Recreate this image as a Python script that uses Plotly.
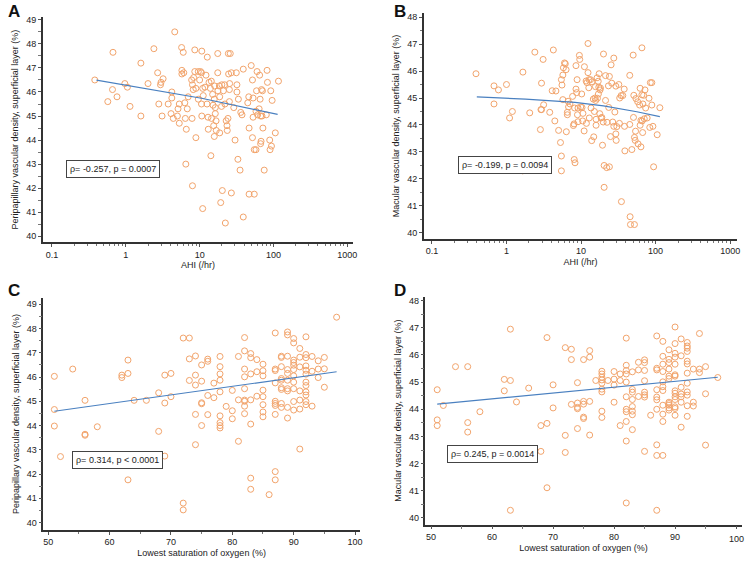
import plotly.graph_objects as go

# panel A: AHI vs peripapillary vessel density
ahi_a = [0.38, 0.57, 0.67, 0.66, 0.76, 0.97, 1.05, 1.14, 1.6, 1.6, 2.0, 2.4, 2.7, 3.0, 3.2, 2.95, 2.8, 3.1,
         3.75, 4.1, 4.2, 4.2, 4.4, 4.6, 5.0, 5.1, 5.3, 5.3, 5.7, 5.75, 5.75, 6.0, 6.1, 6.3, 6.4, 6.6, 6.8,
         7.0, 6.5, 7.8, 8.0, 8.2, 8.6, 8.3, 8.6, 8.9, 7.9, 8.0, 8.9, 9.6, 9.6, 10, 10.3, 10.6, 10.6, 10.7,
         11, 10.7, 11.2, 11, 11.8, 12.2, 12.7, 12.6, 13, 13.1, 13.4, 14, 14.4, 14.2, 14.5, 15, 15.2, 15.5,
         15.8, 16, 15.8, 16.3, 16.3, 16.7, 16.8, 17.6, 17.6, 17.7, 18.5, 18.7, 18.7, 19.3, 20, 19.8, 20.3,
         21, 21.8, 22, 22.3, 22.9, 23.5, 23.7, 24.2, 24.5, 24.7, 25.3, 25.5, 25.3, 26, 26.9, 26.9, 29,
         30.2, 31.4, 32, 32, 33, 33.5, 35.3, 36.1, 37.5, 39, 39, 44.9, 46.3, 46.8, 46.8, 50, 52, 52, 53,
         53, 55, 55, 58, 58, 59, 60, 61, 64, 65, 66, 67, 67, 68, 69, 70, 71, 72, 75, 80, 82, 83, 89, 90,
         92, 94, 96, 106, 117]
pvd_a = [46.5, 45.6, 47.65, 46.1, 45.8, 46.35, 46.2, 45.4, 47.2, 45.0, 46.35, 47.8, 46.8, 46.4, 46.55, 46.3,
         45.5, 45.0, 45.5, 45.1, 45.75, 46.0, 44.9, 48.5, 45.0, 45.3, 45.5, 44.7, 47.85, 46.75, 46.9, 47.65,
         46.8, 45.55, 44.9, 44.45, 45.3, 45.8, 43.0, 46.5, 46.3, 46.1, 47.75, 46.6, 46.85, 46.15, 44.9,
         42.1, 44.1, 46.85, 45.7, 46.5, 46.85, 46.8, 45.5, 47.7, 46.15, 45.0, 45.85, 41.15, 46.2, 46.7,
         47.45, 45.5, 44.95, 44.45, 46.4, 46.15, 46.45, 43.35, 44.9, 45.9, 45.45, 44.6, 44.15, 46.25, 45.7,
         45.35, 45.1, 44.8, 44.4, 47.6, 46.8, 46.05, 46.25, 45.8, 44.3, 41.4, 46.3, 45.4, 41.9, 46.05,
         46.3, 45.5, 40.55, 44.8, 44.6, 44.4, 44.9, 47.6, 46.75, 46.1, 46.35, 45.6, 47.6, 41.8, 46.8,
         45.35, 44.0, 46.8, 46.3, 46.0, 43.2, 45.7, 42.75, 45.15, 45.05, 46.95, 40.8, 45.55, 45.8, 41.75,
         44.5, 47.1, 46.5, 44.1, 45.75, 44.95, 41.75, 43.6, 43.6, 45.2, 46.05, 46.85, 45.05, 45.3, 46.7,
         45.7, 43.85, 45.0, 43.95, 46.1, 45.0, 46.05, 44.5, 42.75, 45.05, 46.9, 46.4, 44.0, 43.6, 46.05,
         43.75, 45.65, 44.3, 46.45]
trend_a_x = [0.4, 10.6, 114]
trend_a_y = [46.49, 45.74, 45.07]

# panel B: AHI vs macular vessel density
ahi_b = [0.39, 0.68, 0.68, 0.78, 1.0, 1.1, 1.2, 1.66, 1.65, 2.05, 2.4, 2.85, 2.9, 2.95, 3.1, 2.95, 3.15, 3.8,
         4.1, 4.25, 4.45, 4.6, 5.0, 5.3, 5.45, 5.45, 5.55, 5.45, 5.7, 5.8, 6.0, 6.15, 6.3, 5.7, 6.35, 6.55,
         6.55, 6.7, 6.8, 7.1, 7.7, 7.9, 8.05, 8.1, 8.3, 8.2, 8.55, 8.55, 8.75, 8.85, 8.95, 9.1, 9.1, 9.5,
         9.6, 9.9, 10.2, 10.3, 10.5, 10.6, 11, 11.1, 11.7, 11.8, 12, 12.4, 12.4, 12.7, 12.8, 12.9, 13.4,
         13.6, 13.9, 14, 14.6, 14.8, 15.1, 15.4, 15.6, 15.7, 15.9, 15.9, 16.4, 16.6, 17, 17.1, 17.3, 17.5,
         17.8, 18, 18.2, 18.6, 19, 19.4, 19.8, 20, 20.4, 20.4, 21.3, 21.3, 22.1, 22.3, 23.3, 23.5, 24, 24,
         24.8, 25.3, 25.8, 26.6, 27.5, 27.5, 28.4, 29.3, 29.3, 29.6, 30.2, 32.1, 32.7, 33, 34.5, 34.8,
         36.3, 37.9, 38.3, 38.7, 45, 45, 45.5, 46, 48, 50, 50.5, 51, 52, 52, 53.2, 53.8, 54.4, 57.5, 58.2,
         61, 62, 62, 63.5, 63.5, 65.5, 65.5, 66, 67, 67.5, 69, 70.5, 72, 73.5, 77, 81.5, 83.5, 85, 89, 89,
         92, 94, 105, 114]
mvd_b = [45.9, 45.45, 44.78, 45.3, 45.5, 44.26, 44.5, 45.96, 42.3, 44.45, 46.7, 43.83, 44.57, 44.57, 46.43,
         45.55, 44.75, 44.47, 45.27, 46.78, 44.15, 45.26, 43.8, 43.35, 42.85, 42.3, 45.48, 45.68, 45.85,
         46.12, 46.3, 46.27, 46.05, 44.94, 43.75, 44.38, 44.47, 44.88, 44.67, 44.78, 45.06, 43.98, 44.04,
         42.72, 42.6, 44.63, 46.2, 45.33, 45.2, 45.68, 44.38, 44.12, 44.63, 46.58, 46.43, 44.67, 45.15,
         44.65, 44.15, 44.43, 43.78, 46.16, 45.63, 44.06, 45.57, 47.02, 45.94, 45.38, 45.68, 44.26, 45.68,
         44.63, 43.42, 45.6, 44.96, 43.56, 44.5, 45.0, 45.42, 44.91, 44.21, 43.99, 45.75, 44.99, 45.62,
         45.15, 45.4, 45.9, 44.42, 45.3, 45.37, 44.26, 44.28, 43.25, 44.11, 46.63, 42.5, 41.69, 45.83,
         44.91, 42.42, 44.1, 45.45, 44.65, 45.8, 42.45, 43.57, 46.23, 45.55, 44.11, 46.48, 43.95, 44.48,
         45.44, 43.67, 43.43, 43.94, 45.5, 44.06, 45.0, 45.09, 41.16, 45.09, 45.33, 43.95, 43.04, 45.84,
         44.02, 40.6, 40.31, 43.09, 46.59, 44.28, 45.1, 43.54, 40.31, 43.43, 43.77, 44.98, 44.86, 43.3,
         44.74, 45.36, 43.99, 44.17, 43.19, 46.86, 45.12, 44.15, 43.72, 44.78, 45.1, 44.23, 45.3, 44.63,
         44.26, 44.99, 43.91, 45.57, 45.57, 44.74, 43.95, 42.45, 43.64, 44.64]
trend_b_x = [0.4, 1.8, 8.3, 20, 56, 114]
trend_b_y = [45.04, 44.96, 44.84, 44.71, 44.49, 44.31]

# panel C: lowest SpO2 vs peripapillary vessel density
spo2_c = [51, 51, 51, 52, 54, 56, 56, 56, 58, 62, 62, 63, 63, 63, 64, 66, 68, 68, 69, 69, 69, 70, 70, 72, 72,
          72, 73, 73, 73, 74, 74, 74, 74, 74, 75, 75, 75, 75, 75, 76, 76, 76, 76, 77, 77, 78, 78, 78, 78,
          78, 78, 78, 78, 78, 79, 80, 80, 80, 81, 81, 81, 82, 82, 82, 82, 82, 82, 82, 82, 82, 83, 83, 83,
          83, 83, 83, 83, 84, 84, 84, 85, 85, 85, 85, 85, 85, 85, 85, 86, 87, 87, 87, 87, 87, 87, 87, 87,
          87, 87, 88, 88, 88, 88, 88, 88, 88, 88, 88, 89, 89, 89, 89, 89, 89, 89, 89, 89, 89, 90, 90, 90,
          90, 90, 90, 90, 90, 90, 90, 90, 91, 91, 91, 91, 91, 91, 91, 92, 92, 92, 92, 92, 92, 92, 92, 92,
          92, 92, 92, 93, 93, 93, 94, 94, 94, 95, 95, 95, 97]
pvd_c = [46.03, 44.66, 43.98, 42.72, 46.33, 45.04, 43.64, 43.6, 43.95, 46.08, 45.98, 46.7, 46.15, 41.76, 45.04,
         45.04, 45.35, 43.76, 44.93, 46.08, 42.74, 46.15, 45.19, 47.61, 40.8, 40.52, 47.61, 46.75, 45.86,
         46.87, 46.08, 45.67, 44.46, 43.21, 46.5, 45.83, 44.94, 44.9, 44.0, 46.74, 46.65, 45.24, 44.45,
         45.75, 45.15, 46.85, 46.43, 46.13, 45.87, 45.39, 44.4, 44.12, 44.0, 43.9, 44.79, 45.45, 44.61,
         44.28, 46.85, 45.06, 43.35, 47.63, 47.08, 46.33, 46.01, 45.52, 45.05, 45.0, 44.8, 44.49, 46.97,
         46.8, 46.13, 45.06, 44.06, 41.83, 41.37, 46.72, 46.22, 45.21, 46.53, 46.26, 46.05, 45.46, 45.19,
         44.86, 44.56, 44.36, 41.15, 47.82, 46.33, 46.27, 45.76, 45.0, 44.91, 44.83, 44.46, 42.1, 41.76,
         46.86, 46.81, 46.43, 45.94, 45.87, 45.56, 45.49, 44.91, 44.75, 47.86, 47.74, 46.86, 46.31, 46.15,
         45.87, 45.52, 45.43, 44.75, 44.31, 47.59, 47.41, 46.7, 46.6, 46.49, 46.31, 46.05, 45.79, 45.52,
         44.99, 44.64, 47.18, 46.82, 46.42, 45.43, 45.05, 44.68, 43.03, 47.66, 46.93, 46.8, 46.46, 46.28,
         46.12, 45.79, 45.65, 45.39, 45.26, 44.99, 44.86, 46.85, 46.24, 44.8, 46.67, 46.33, 45.98, 46.81,
         46.34, 45.58, 48.47]
trend_c_x = [51, 97]
trend_c_y = [44.59, 46.22]

# panel D: lowest SpO2 vs macular vessel density
spo2_d = [51, 51, 51, 52, 54, 56, 56, 56, 58, 62, 62, 63, 63, 63, 64, 66, 68, 68, 69, 69, 69, 70, 70, 72, 72,
          72, 73, 73, 73, 74, 74, 74, 74, 74, 75, 75, 75, 75, 75, 76, 76, 76, 76, 77, 78, 78, 78, 78, 78,
          78, 78, 78, 78, 79, 80, 80, 80, 80, 81, 81, 81, 82, 82, 82, 82, 82, 82, 82, 82, 82, 82, 82, 83,
          83, 83, 83, 83, 83, 83, 83, 84, 84, 84, 85, 85, 85, 85, 85, 85, 85, 85, 86, 87, 87, 87, 87, 87,
          87, 87, 87, 87, 87, 88, 88, 88, 88, 88, 88, 88, 88, 88, 88, 88, 89, 89, 89, 89, 89, 89, 89, 89,
          89, 89, 89, 90, 90, 90, 90, 90, 90, 90, 90, 90, 90, 90, 90, 90, 90, 91, 91, 91, 91, 91, 91, 91,
          92, 92, 92, 92, 92, 92, 92, 92, 92, 92, 92, 92, 93, 93, 93, 94, 94, 94, 95, 95, 95, 97]
mvd_d = [44.72, 43.61, 43.4, 44.14, 45.57, 45.57, 43.51, 43.16, 43.91, 45.1, 44.68, 46.95, 45.06, 40.28, 44.27,
         44.78, 43.4, 42.45, 46.64, 43.48, 41.11, 44.9, 44.05, 46.27, 43.04, 42.41, 46.21, 45.83, 44.18,
         44.98, 44.23, 44.07, 44.02, 43.29, 45.83, 44.29, 44.19, 43.71, 43.66, 46.16, 45.92, 44.29, 43.05,
         45.06, 45.4, 45.3, 45.18, 45.08, 44.96, 44.74, 44.64, 43.93, 43.7, 45.06, 45.39, 45.11, 44.89,
         44.26, 45.3, 45.06, 43.4, 46.62, 45.62, 45.43, 45.3, 45.0, 44.46, 44.0, 43.91, 43.55, 42.83,
         40.55, 45.38, 44.73, 44.63, 44.36, 44.1, 43.93, 43.8, 43.25, 45.73, 45.45, 44.47, 45.82, 45.72,
         45.43, 45.05, 44.63, 44.53, 44.45, 42.45, 43.78, 46.7, 45.51, 45.45, 44.72, 44.45, 44.35, 44.0,
         42.69, 42.3, 40.28, 46.5, 45.95, 45.66, 45.39, 45.01, 44.83, 44.69, 44.15, 43.82, 43.55, 42.3,
         46.19, 45.84, 45.72, 45.48, 45.22, 45.13, 44.26, 44.21, 44.15, 44.05, 43.97, 47.03, 46.42, 46.06,
         45.92, 45.66, 45.27, 45.22, 44.68, 44.59, 44.46, 44.36, 44.09, 44.03, 43.78, 46.59, 45.97, 44.81,
         44.56, 44.46, 44.26, 43.34, 46.46, 46.33, 46.25, 46.13, 45.77, 45.67, 45.33, 44.96, 44.64, 44.52,
         44.13, 43.74, 45.48, 44.26, 44.12, 46.79, 45.48, 45.35, 45.57, 44.57, 42.68, 45.17]
trend_d_x = [51, 97]
trend_d_y = [44.19, 45.18]

stats = ["\u03c1= -0.257, p = 0.0007", "\u03c1= -0.199, p = 0.0094",
         "\u03c1= 0.314, p < 0.0001", "\u03c1= 0.245, p = 0.0014"]
letters = ["A", "B", "C", "D"]
spo2_ticks = [50, 60, 70, 80, 90, 100]

MARKER = "#F2A46C"
LINE = "#4A80C0"
FONT = "Liberation Sans, Arial, sans-serif"

panels = [
    (ahi_a, pvd_a, trend_a_x, trend_a_y),
    (ahi_b, mvd_b, trend_b_x, trend_b_y),
    (spo2_c, pvd_c, trend_c_x, trend_c_y),
    (spo2_d, mvd_d, trend_d_x, trend_d_y),
]

fig = go.Figure()
for i, (xs, ys, tx, ty) in enumerate(panels):
    n = "" if i == 0 else str(i + 1)
    fig.add_trace(go.Scatter(
        x=xs, y=ys, mode="markers", xaxis="x" + n, yaxis="y" + n,
        marker=dict(symbol="circle-open", size=6, color=MARKER, line=dict(width=1, color=MARKER)),
        showlegend=False, cliponaxis=False,
    ))
    fig.add_trace(go.Scatter(
        x=tx, y=ty, mode="lines", xaxis="x" + n, yaxis="y" + n,
        line=dict(color=LINE, width=1.2), showlegend=False,
    ))

# axis domains (paper fractions) and ranges
x_domains = [[0.0567, 0.469], [0.563, 0.979], [0.0575, 0.478], [0.565, 0.985]]
y_domains = [[0.572, 0.970], [0.578, 0.977], [0.064, 0.473], [0.073, 0.476]]
x_ranges = [[-1.126, 3.08], [-1.107, 3.094], [49.2, 100.8], [49.07, 100.93]]
y_ranges = [[39.75, 49.12], [39.78, 48.15], [39.7, 49.25], [39.75, 48.15]]
x_titles = ["AHI (/hr)", "AHI (/hr)", "Lowest saturation of oxygen (%)", "Lowest saturation of oxygen (%)"]
y_titles = ["Peripapillary vascular density, superficial layer (%)",
            "Macular vascular density, superficial layer (%)",
            "Peripapillary vascular density, superficial layer (%)",
            "Macular vascular density, superficial layer (%)"]

log_major = [0.1, 1, 10, 100, 1000]
log_minor = [m * d for d in [0.1, 1, 10, 100] for m in range(2, 10)]

common = dict(
    showline=True, linecolor="#333333", linewidth=1.5, ticks="outside", ticklen=3,
    tickcolor="#555555", tickwidth=1, showgrid=False, zeroline=False,
    tickfont=dict(size=9, color="#222222", family=FONT), automargin=False,
    ticklabeloverflow="allow", tickangle=0,
)
layout_axes = {}
for i in range(4):
    n = "" if i == 0 else str(i + 1)
    if i < 2:
        xa = dict(type="log", tickvals=log_major, ticktext=["0.1", "1", "10", "100", "1000"],
                  minor=dict(tickvals=log_minor, ticks="outside", ticklen=2.5, tickcolor="#777777"))
    else:
        labels = [str(v) for v in spo2_ticks]
        if i == 3:
            labels[-1] = ""  # drawn as an annotation below, at the edge of the page
        xa = dict(tickvals=spo2_ticks, ticktext=labels,
                  minor=dict(dtick=5, ticks="outside", ticklen=2.5, tickcolor="#777777"))
    xa.update(common)
    xa.update(domain=x_domains[i], range=x_ranges[i], anchor="y" + n,
              title=dict(text=x_titles[i], font=dict(size=9, color="#222222", family=FONT), standoff=3))
    ya = dict(dtick=1, tick0=40,
              minor=dict(dtick=0.5, ticks="outside", ticklen=2.5, tickcolor="#777777"))
    ya.update(common)
    ya.update(domain=y_domains[i], range=y_ranges[i], anchor="x" + n,
              title=dict(text=y_titles[i], font=dict(size=9, color="#222222", family=FONT), standoff=6))
    layout_axes["xaxis" + n] = xa
    layout_axes["yaxis" + n] = ya

# statistics boxes
box_pos = [(0.1507, 0.7014), (0.670, 0.7085), (0.1554, 0.1873), (0.6534, 0.197)]
annotations = []
for (bx, by), s in zip(box_pos, stats):
    annotations.append(dict(
        x=bx, y=by, xref="paper", yref="paper", text=s, showarrow=False,
        xanchor="center", yanchor="middle", bgcolor="white", bordercolor="#444444",
        borderwidth=1, borderpad=3, font=dict(size=9, color="#222222", family=FONT),
    ))

letter_pos = [(0.008, 0.979), (0.5206, 0.979), (0.008, 0.4876), (0.5206, 0.4876)]
for (lx, ly), s in zip(letter_pos, letters):
    annotations.append(dict(
        x=lx, y=ly, xref="paper", yref="paper", text="<b>" + s + "</b>", showarrow=False,
        xanchor="left", yanchor="middle", font=dict(size=17, color="#111111", family=FONT),
    ))

# last tick label of panel D
annotations.append(dict(
    x=spo2_ticks[-1], y=0.0485, xref="x4", yref="paper", text=str(spo2_ticks[-1]), showarrow=False,
    xanchor="center", yanchor="middle", font=dict(size=9, color="#222222", family=FONT),
))

fig.update_layout(
    width=753, height=566,
    margin=dict(l=0, r=0, t=0, b=0),
    paper_bgcolor="white", plot_bgcolor="white",
    font=dict(family=FONT, color="#222222"),
    annotations=annotations,
    **layout_axes,
)

fig.write_html(
    "out.html",
    config={"displayModeBar": False},
    post_script="document.body.style.margin = '0'; document.body.style.overflow = 'hidden';",
)
